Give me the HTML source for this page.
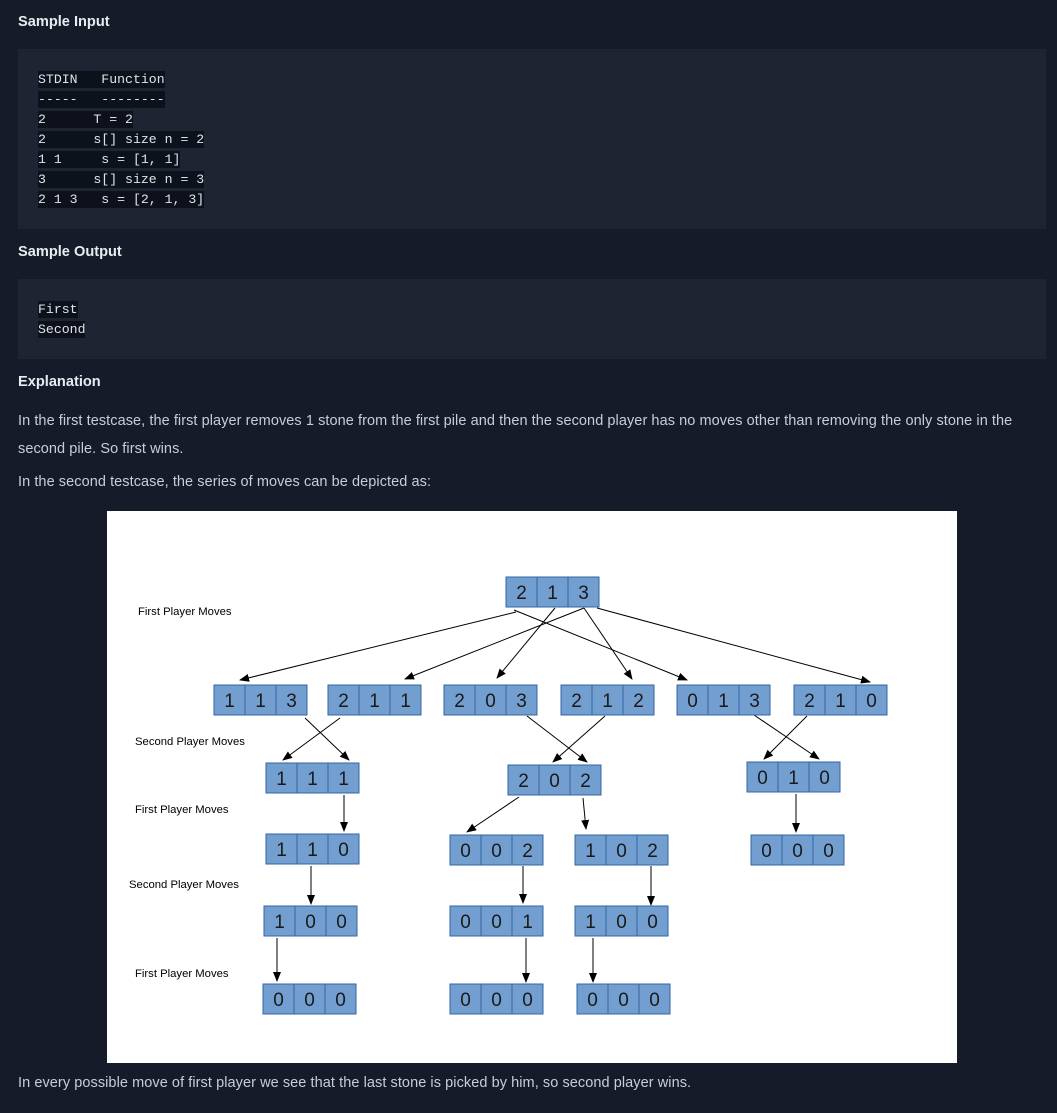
<!DOCTYPE html>
<html><head><meta charset="utf-8"><style>
body{margin:0;width:1057px;height:1113px;background:#151b29;font-family:"Liberation Sans",sans-serif;position:relative;overflow:hidden}
.h{position:absolute;left:18px;color:#e8ebf0;font-weight:bold;font-size:14.6px}
.p{position:absolute;left:18px;color:#c9cdd5;font-size:14.5px;letter-spacing:0.07px;width:1035px;line-height:28px}
.code{position:absolute;left:18px;width:1028px;background:#1f2432}
.ln{position:absolute;font-family:"Liberation Mono",monospace;font-size:13.2px;line-height:17px;color:#dfe3ea;background:#0c111b;white-space:pre}
</style></head><body>
<div class="h" style="top:14px">Sample Input</div>
<div class="code" style="top:49px;height:180px"></div>
<div class="ln" style="left:38px;top:71px">STDIN   Function</div>
<div class="ln" style="left:38px;top:91px">-----   --------</div>
<div class="ln" style="left:38px;top:111px">2      T = 2</div>
<div class="ln" style="left:38px;top:131px">2      s[] size n = 2</div>
<div class="ln" style="left:38px;top:151px">1 1     s = [1, 1]</div>
<div class="ln" style="left:38px;top:171px">3      s[] size n = 3</div>
<div class="ln" style="left:38px;top:191px">2 1 3   s = [2, 1, 3]</div>
<div class="h" style="top:244px">Sample Output</div>
<div class="code" style="top:279px;height:80px"></div>
<div class="ln" style="left:38px;top:301px">First</div>
<div class="ln" style="left:38px;top:321px">Second</div>
<div class="h" style="top:374px">Explanation</div>
<div class="p" style="top:407px">In the first testcase, the first player removes 1 stone from the first pile and then the second player has no moves other than removing the only stone in the second pile. So first wins.</div>
<div class="p" style="top:468px">In the second testcase, the series of moves can be depicted as:</div>
<div class="p" style="top:1069px">In every possible move of first player we see that the last stone is picked by him, so second player wins.</div>
<svg width="1057" height="1113" style="position:absolute;left:0;top:0" font-family="Liberation Sans, sans-serif">
<defs><marker id="a" markerWidth="10" markerHeight="10" refX="9" refY="5" orient="auto" markerUnits="userSpaceOnUse" viewBox="0 0 10 10"><path d="M0,1 L10,5 L0,9z" fill="#000"/></marker></defs>
<rect x="107" y="511" width="850" height="552" fill="#fff"/>
<g font-size="11.3" fill="#000">
<text x="138" y="615">First Player Moves</text>
<text x="135" y="745">Second Player Moves</text>
<text x="135" y="813">First Player Moves</text>
<text x="129" y="888">Second Player Moves</text>
<text x="135" y="977">First Player Moves</text>
</g>
<g stroke="#000" stroke-width="1" marker-end="url(#a)">
<line x1="516" y1="612" x2="240" y2="680"/>
<line x1="555" y1="608" x2="497" y2="678"/>
<line x1="584" y1="608" x2="405" y2="679"/>
<line x1="584" y1="608" x2="632" y2="679"/>
<line x1="514" y1="610" x2="687" y2="680"/>
<line x1="597" y1="608" x2="870" y2="682"/>
<line x1="305" y1="718" x2="349" y2="760"/>
<line x1="340" y1="718" x2="283" y2="760"/>
<line x1="527" y1="716" x2="587" y2="762"/>
<line x1="605" y1="716" x2="553" y2="762"/>
<line x1="754" y1="715" x2="819" y2="759"/>
<line x1="807" y1="716" x2="764" y2="759"/>
<line x1="344" y1="795" x2="344" y2="831"/>
<line x1="519" y1="797" x2="467" y2="832"/>
<line x1="583" y1="798" x2="586" y2="829"/>
<line x1="796" y1="794" x2="796" y2="832"/>
<line x1="311" y1="866" x2="311" y2="904"/>
<line x1="523" y1="866" x2="523" y2="903"/>
<line x1="651" y1="866" x2="651" y2="905"/>
<line x1="277" y1="938" x2="277" y2="981"/>
<line x1="526" y1="938" x2="526" y2="982"/>
<line x1="593" y1="938" x2="593" y2="982"/>
</g>
<g id="boxes" font-size="19" text-anchor="middle" fill="#1a1a1a"></g>
</svg>
<script>
var B=[[506,577,"213"],[214,685,"113"],[328,685,"211"],[444,685,"203"],[561,685,"212"],[677,685,"013"],[794,685,"210"],
[266,763,"111"],[508,765,"202"],[747,762,"010"],[266,834,"110"],[450,835,"002"],[575,835,"102"],[751,835,"000"],
[264,906,"100"],[450,906,"001"],[575,906,"100"],[263,984,"000"],[450,984,"000"],[577,984,"000"]];
var g=document.getElementById("boxes"),s="";
B.forEach(function(b){for(var i=0;i<3;i++){var x=b[0]+i*31;s+='<rect x="'+x+'" y="'+b[1]+'" width="31" height="30" fill="#729fcf" stroke="#3465a4" stroke-width="1"/>';s+='<text x="'+(x+15.5)+'" y="'+(b[1]+22)+'" fill="#1a1a1a">'+b[2][i]+'</text>';}});
g.innerHTML=s;
</script>
</body></html>
